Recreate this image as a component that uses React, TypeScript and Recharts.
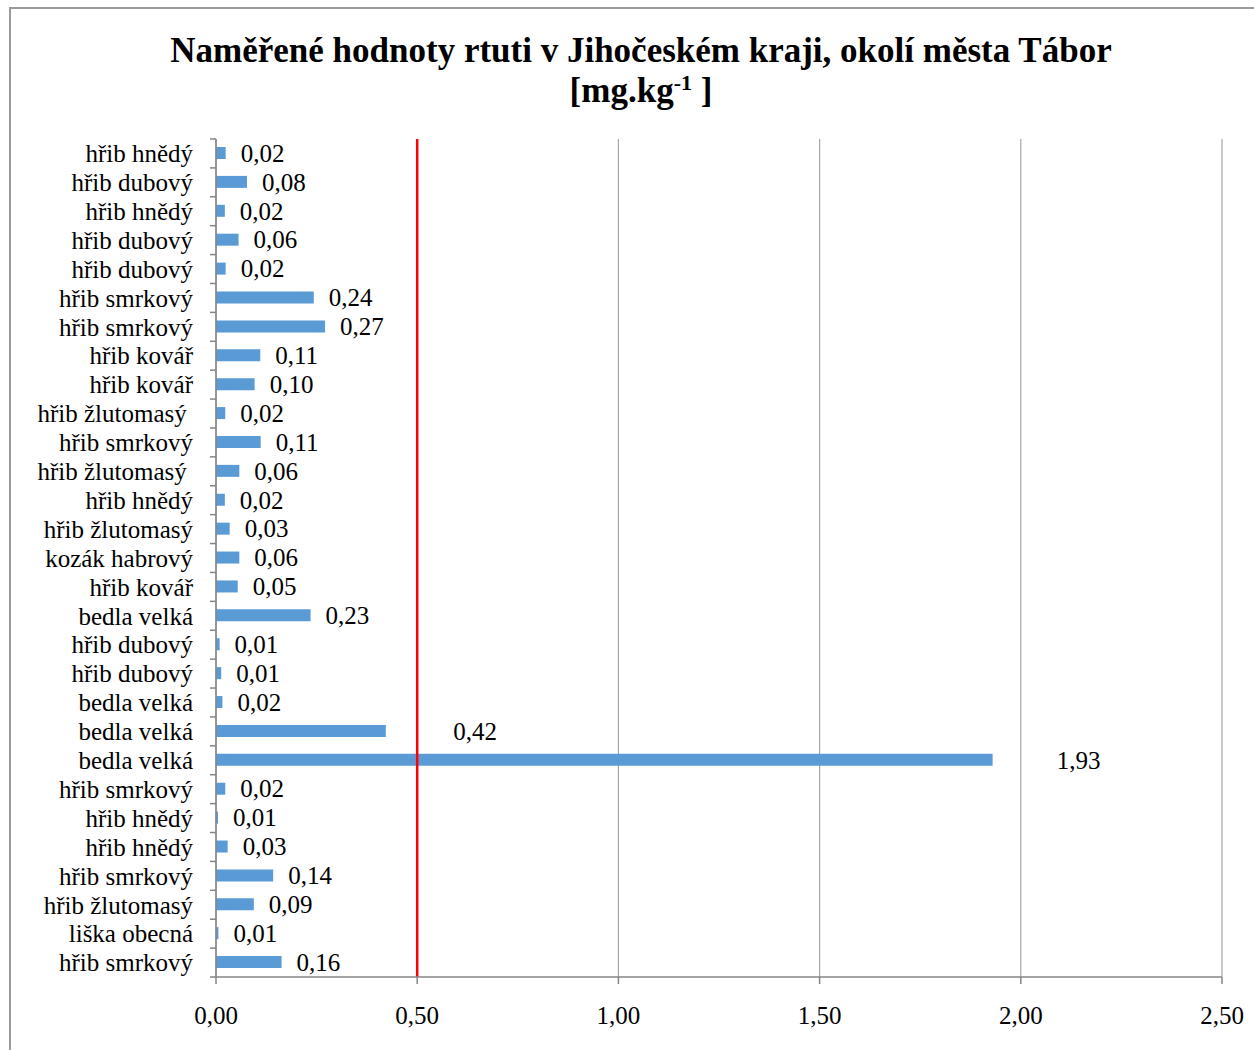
import React from "react"
import {
  Bar,
  BarChart,
  CartesianGrid,
  LabelList,
  ReferenceLine,
  XAxis,
  YAxis,
} from "recharts"

// mushroom species, top to bottom as in the chart
const species = [
  "hřib hnědý",
  "hřib dubový",
  "hřib hnědý",
  "hřib dubový",
  "hřib dubový",
  "hřib smrkový",
  "hřib smrkový",
  "hřib kovář",
  "hřib kovář",
  "hřib žlutomasý ",
  "hřib smrkový",
  "hřib žlutomasý ",
  "hřib hnědý",
  "hřib žlutomasý",
  "kozák habrový",
  "hřib kovář",
  "bedla velká",
  "hřib dubový",
  "hřib dubový",
  "bedla velká",
  "bedla velká",
  "bedla velká",
  "hřib smrkový",
  "hřib hnědý",
  "hřib hnědý",
  "hřib smrkový",
  "hřib žlutomasý",
  "liška obecná",
  "hřib smrkový",
]

// mercury [mg/kg]
const mercury = [
  0.024, 0.077, 0.022, 0.056, 0.024, 0.243, 0.271, 0.11, 0.096, 0.023,
  0.111, 0.058, 0.022, 0.034, 0.058, 0.054, 0.235, 0.009, 0.013, 0.016,
  0.422, 1.93, 0.023, 0.005, 0.029, 0.142, 0.094, 0.006, 0.163,
]

const xTicks = [0, 0.5, 1, 1.5, 2, 2.5]
const limit = 0.5

const data = species.map((name, i) => ({ id: i, name, hg: mercury[i] }))

const fmt = (v: number) => v.toFixed(2).replace(".", ",")

const W = 1254
const H = 1050
const PLOT_LEFT = 216
const PLOT_RIGHT = 1222
const PLOT_TOP = 139
const PLOT_BOTTOM = 977
const FONT = "'Liberation Serif', 'Times New Roman', serif"
const FS = 25
const band = (PLOT_BOTTOM - PLOT_TOP) / species.length
const pxPerUnit = (PLOT_RIGHT - PLOT_LEFT) / xTicks[xTicks.length - 1]

const CategoryTick = (props: any) => {
  const { y, index } = props
  const top = y - band / 2
  return (
    <g>
      <line x1={PLOT_LEFT - 6} x2={PLOT_LEFT} y1={top} y2={top} stroke="#868686" strokeWidth={1.5} />
      {index === species.length - 1 && (
        <line x1={PLOT_LEFT - 6} x2={PLOT_LEFT} y1={top + band} y2={top + band} stroke="#868686" strokeWidth={1.5} />
      )}
      <text
        x={193}
        y={y}
        dy="0.35em"
        textAnchor="end"
        fontFamily={FONT}
        fontSize={FS}
        fill="#000"
        style={{ whiteSpace: "pre" }}
      >
        {species[index]}
      </text>
    </g>
  )
}

// value label right of the bar; moved past a grid line instead of sitting on it
const ValueLabel = (props: any) => {
  const { x, y, width, height, value } = props
  const w = FS * 1.75
  let lx = x + width + 15
  for (const t of xTicks) {
    const gx = PLOT_LEFT + t * pxPerUnit
    if (t > 0 && lx < gx && lx + w > gx) lx = gx + 36
  }
  return (
    <text x={lx} y={y + height / 2} dy="0.35em" fontFamily={FONT} fontSize={FS} fill="#000">
      {fmt(Number(value))}
    </text>
  )
}

export default function App() {
  return (
    <div style={{ position: "fixed", left: 0, top: 0, width: W, height: H, overflow: "hidden", background: "#fff" }}>
      <div
        style={{
          position: "absolute",
          left: 9,
          top: 7,
          width: W + 40,
          height: H + 40,
          border: "2px solid #9a9a9a",
        }}
      />
      <div
        style={{
          position: "absolute",
          top: 31,
          left: 14,
          width: W,
          textAlign: "center",
          fontFamily: FONT,
          fontWeight: "bold",
          fontSize: 35,
          lineHeight: "40px",
          color: "#000",
        }}
      >
        Naměřené hodnoty rtuti v Jihočeském kraji, okolí města Tábor
        <br />
        [mg.kg<sup style={{ fontSize: 22, verticalAlign: "12px", lineHeight: 0 }}>-1</sup> ]
      </div>
      <div style={{ position: "absolute", left: 0, top: 0 }}>
        <BarChart
          width={W}
          height={H}
          data={data}
          layout="vertical"
          margin={{ top: PLOT_TOP, right: W - PLOT_RIGHT, bottom: H - PLOT_BOTTOM - 60, left: 0 }}
          barSize={12}
        >
          <CartesianGrid horizontal={false} vertical stroke="#a6a6a6" strokeWidth={1.2} />
          <XAxis
            type="number"
            domain={[0, 2.5]}
            ticks={xTicks}
            tickFormatter={fmt}
            height={60}
            stroke="#868686"
            strokeWidth={1.5}
            tickSize={7}
            tickMargin={22}
            tick={{ fontFamily: FONT, fontSize: FS, fill: "#000" }}
            interval={0}
          />
          <YAxis
            type="category"
            dataKey="id"
            width={PLOT_LEFT}
            stroke="#868686"
            strokeWidth={1.5}
            tickLine={false}
            interval={0}
            tick={<CategoryTick />}
          />
          <Bar dataKey="hg" fill="#5B9BD5" isAnimationActive={false}>
            <LabelList dataKey="hg" content={<ValueLabel />} />
          </Bar>
          <ReferenceLine x={limit} stroke="#FF0000" strokeWidth={2.5} ifOverflow="extendDomain" />
        </BarChart>
      </div>
    </div>
  )
}
